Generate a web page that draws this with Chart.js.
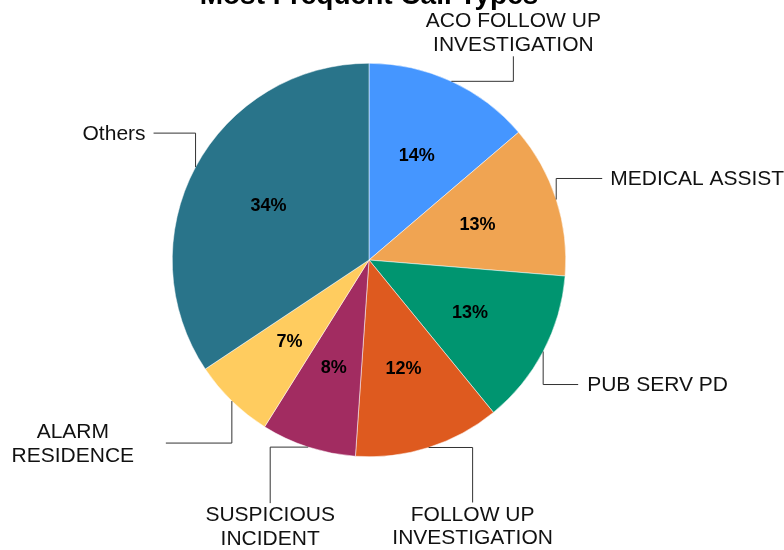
<!DOCTYPE html>
<html>
<head>
<meta charset="utf-8">
<script src="https://cdn.jsdelivr.net/npm/chart.js@4"></script>
<style>
  html, body { margin: 0; padding: 0; background: #fff; }
  #wrap { width: 784px; height: 550px; position: relative; }
</style>
</head>
<body>
<div id="wrap"><canvas id="callChart"></canvas></div>
<script>
const title = "Most Frequent Call Types";
const categories = [
    ["ACO FOLLOW UP", "INVESTIGATION"],
    ["MEDICAL ASSIST"],
    ["PUB SERV PD"],
    ["FOLLOW UP", "INVESTIGATION"],
    ["SUSPICIOUS", "INCIDENT"],
    ["ALARM", "RESIDENCE"],
    ["Others"]
];
const shares = [13.75, 12.55, 12.8, 12.0, 7.8, 6.75, 34.35];
const colors = ["#4596ff", "#f0a452", "#009570", "#de5a1f", "#a22c61", "#ffcc5f", "#29748a"];

// leader line layout: elbow order, elbow end relative to arc anchor, text offset from elbow end
const leaders = [
    { first: 'h', dx: 62, dy: -25, align: 'center', tx: 0, ty: -24 },
    { first: 'v', dx: 46, dy: -21, align: 'left', tx: 8, ty: 0 },
    { first: 'v', dx: 35, dy: 33, align: 'left', tx: 9, ty: 0 },
    { first: 'h', dx: 44, dy: 55, align: 'center', tx: 0, ty: 23 },
    { first: 'h', dx: -38, dy: 56, align: 'center', tx: 0, ty: 23 },
    { first: 'v', dx: -66, dy: 42, align: 'center', tx: -93, ty: 0 },
    { first: 'v', dx: -42, dy: -34, align: 'right', tx: -8, ty: 0 }
];

const FONT = '"Liberation Sans", Arial, sans-serif';

const pieLabels = {
    id: 'pieLabels',
    afterDatasetsDraw(chart) {
        const ctx = chart.ctx;
        const meta = chart.getDatasetMeta(0);
        const total = shares.reduce((a, b) => a + b, 0);
        ctx.save();
        meta.data.forEach((arc, i) => {
            const p = arc.getProps(['x', 'y', 'startAngle', 'endAngle', 'outerRadius']);
            const mid = (p.startAngle + p.endAngle) / 2;

            // percentage inside
            const r = p.outerRadius * 0.58;
            ctx.fillStyle = '#000';
            ctx.font = 'bold 18px ' + FONT;
            ctx.textAlign = 'center';
            ctx.textBaseline = 'middle';
            ctx.fillText(Math.round(shares[i] / total * 100) + '%', p.x + Math.cos(mid) * r, p.y + Math.sin(mid) * r);

            // leader line
            const L = leaders[i];
            const ax = p.x + Math.cos(mid) * p.outerRadius;
            const ay = p.y + Math.sin(mid) * p.outerRadius;
            const ex = ax + L.dx, ey = ay + L.dy;
            ctx.strokeStyle = '#333';
            ctx.lineWidth = 1;
            ctx.beginPath();
            ctx.moveTo(ax, ay);
            if (L.first === 'h') ctx.lineTo(ex, ay);
            else ctx.lineTo(ax, ey);
            ctx.lineTo(ex, ey);
            ctx.stroke();

            // outside label
            const lines = categories[i];
            const lh = 23.5;
            ctx.fillStyle = '#111';
            ctx.font = '21px ' + FONT;
            ctx.textAlign = L.align;
            const cy = ey + L.ty + 1;
            lines.forEach((t, k) => {
                ctx.fillText(t, ex + L.tx, cy + (k - (lines.length - 1) / 2) * lh);
            });
        });

        // title
        ctx.fillStyle = '#000';
        ctx.font = 'bold 28px ' + FONT;
        ctx.textAlign = 'center';
        ctx.textBaseline = 'alphabetic';
        ctx.fillText(title, 369, 4);
        ctx.restore();
    }
};

new Chart(document.getElementById('callChart'), {
    type: 'pie',
    data: {
        labels: categories.map(c => c.join(' ')),
        datasets: [{
            data: shares,
            backgroundColor: colors,
            borderColor: '#ffffff',
            borderWidth: 0.5
        }]
    },
    options: {
        responsive: true,
        maintainAspectRatio: false,
        animation: false,
        layout: { padding: { top: 63, bottom: 93, left: 100, right: 146 } },
        plugins: {
            legend: { display: false },
            tooltip: { enabled: false },
            title: { display: false }
        }
    },
    plugins: [pieLabels]
});
</script>
</body>
</html>
